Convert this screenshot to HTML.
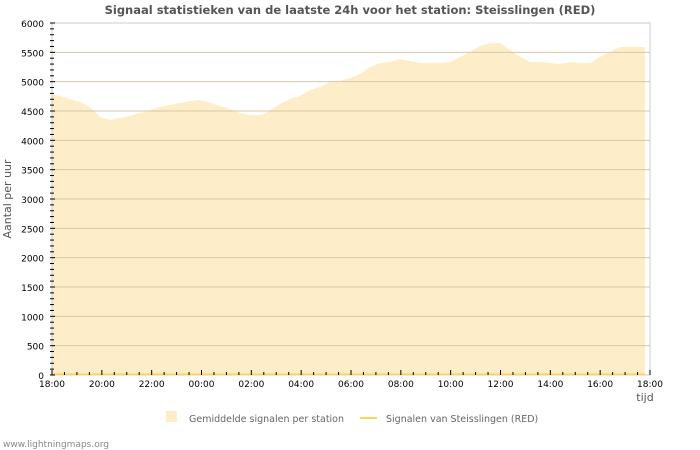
<!DOCTYPE html>
<html><head><meta charset="utf-8"><style>
body{margin:0;background:#fff;}
svg{display:block;font-family:"DejaVu Sans","Liberation Sans",sans-serif;}
</style></head><body>
<svg id="s" width="700" height="450" viewBox="0 0 700 450">
<rect width="700" height="450" fill="#fff"/>
<text x="350" y="14" text-anchor="middle" font-size="11.5" font-weight="bold" fill="#555">Signaal statistieken van de laatste 24h voor het station: Steisslingen (RED)</text>
<g id="grid"></g>
<path fill="#fdedc9" d="M52,375 L52,94 L60,96 L70,99 L80,102 L90,107 L100,117 L110,120 L115,119 L120,118 L130,116 L140,113 L150,110 L160,107 L170,105 L180,103 L190,101 L200,100 L210,103 L220,106 L230,109 L240,113 L250,115 L260,115 L265,114 L270,110 L280,104 L290,99 L300,96 L310,90 L320,87 L330,82 L340,81 L350,78 L360,74 L370,67 L380,63 L390,62 L400,59 L410,61 L420,63 L430,63 L440,63 L450,62 L460,57 L470,52 L480,46 L490,43 L500,43 L510,50 L520,57 L530,62 L540,62 L550,63 L560,64 L570,62 L580,63 L590,63 L600,57 L610,52 L620,47 L630,47 L645,47 L645,375 Z"/>
<g id="grid2"></g>
<rect x="52" y="23" width="598" height="352" fill="none" stroke="#ccc" stroke-width="1"/>
<line x1="52" y1="374.5" x2="645" y2="374.5" stroke="#fcd25a" stroke-width="2"/>
<g id="ticks"></g>
<text transform="translate(11,199) rotate(-90)" text-anchor="middle" font-size="11" fill="#555">Aantal per uur</text>
<text x="645" y="401" text-anchor="middle" font-size="11" fill="#555">tijd</text>
<rect x="166" y="411" width="11" height="11" fill="#fdedc9"/>
<text x="189" y="422" font-size="9.5" fill="#666">Gemiddelde signalen per station</text>
<line x1="360" y1="418" x2="377" y2="418" stroke="#fcd25a" stroke-width="2"/>
<text x="386" y="422" font-size="9.5" fill="#666">Signalen van Steisslingen (RED)</text>
<text x="3" y="447" font-size="9" fill="#888">www.lightningmaps.org</text>
</svg>
<script>
var ns="http://www.w3.org/2000/svg";
function el(p,t,a,txt){var e=document.createElementNS(ns,t);for(var k in a)e.setAttribute(k,a[k]);if(txt)e.textContent=txt;document.getElementById(p).appendChild(e);}
for(var v=500;v<=5500;v+=500){var y=375-v*352/6000;el("grid2","line",{x1:52,x2:650,y1:y,y2:y,stroke:"#d6c9a8","stroke-width":1});}
for(var v=0;v<=6000;v+=500){var y=375-v*352/6000;el("ticks","text",{x:44,y:y+4,"text-anchor":"end","font-size":9,fill:"#000"},String(v));}
for(var v=0;v<=6000;v+=100){var y=375-v*352/6000;el("ticks","line",{x1:50,x2:v%500==0?55:54,y1:y,y2:y,stroke:"#000","stroke-width":1});}
var labs=["18:00","20:00","22:00","00:00","02:00","04:00","06:00","08:00","10:00","12:00","14:00","16:00","18:00"];
for(var i=0;i<=48;i++){var x=52+i*598/48;var maj=i%4==0;el("ticks","line",{x1:x,x2:x,y1:maj?370:372,y2:375,stroke:"#000","stroke-width":1});}
for(var i=0;i<13;i++){var x=52+i*598/12;el("ticks","text",{x:x,y:387,"text-anchor":"middle","font-size":9,fill:"#000"},labs[i]);}
</script>
</body></html>
